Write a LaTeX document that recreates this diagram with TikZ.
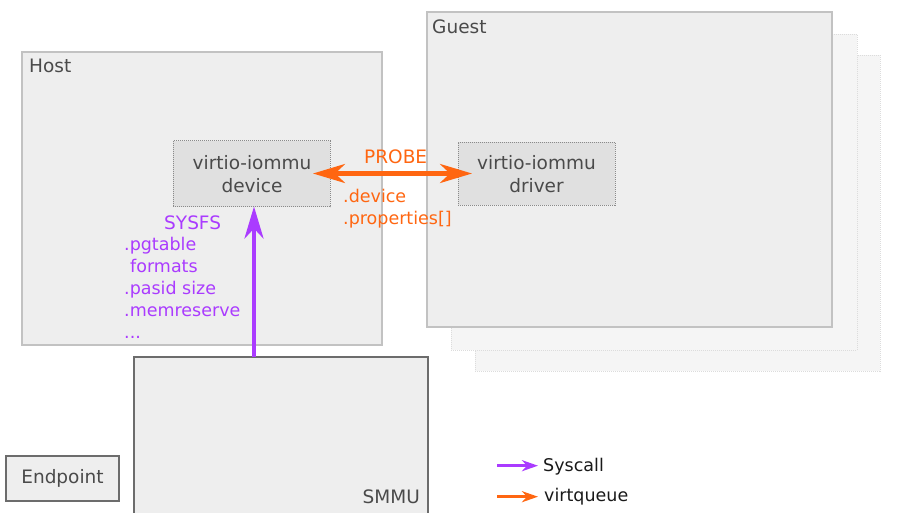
\documentclass[tikz,border=0pt]{standalone}
\usepackage{fontspec}
\setmainfont{DejaVu Sans}
\usetikzlibrary{arrows.meta}
\definecolor{orng}{HTML}{FF6611}
\definecolor{purp}{HTML}{AA3BFF}
\definecolor{txtgray}{HTML}{4A4A4A}
\definecolor{regionfill}{HTML}{EEEEEE}
\definecolor{regionline}{HTML}{C2C2C2}
\definecolor{shadowfill}{HTML}{F5F5F5}
\definecolor{shadowline}{HTML}{DCDCDC}
\definecolor{compfill}{HTML}{E0E0E0}
\definecolor{compline}{HTML}{8A8A8A}
\definecolor{hwline}{HTML}{6C6C6C}
\tikzset{
  sized/.style n args={2}{minimum width=#1pt, minimum height=#2pt},
  nwbox/.style={rectangle, anchor=north west, inner sep=0pt, outer sep=0pt},
  regionbox/.style={nwbox, fill=regionfill, draw=regionline, line width=1.5pt},
  shadowbox/.style={nwbox, fill=shadowfill, draw=shadowline, line width=1pt, densely dotted},
  compbox/.style={rectangle, inner sep=0pt, outer sep=0pt, fill=compfill, draw=compline, line width=1pt, densely dotted},
  hwbox/.style={rectangle, inner sep=0pt, outer sep=0pt, fill=regionfill, draw=hwline, line width=1.5pt},
  bigtxt/.style={inner sep=0pt, font=\fontsize{18.5}{23}\selectfont},
  smalltxt/.style={inner sep=0pt, font=\fontsize{17.5}{22}\selectfont},
  bigtip/.style={Stealth[length=32pt,width=19pt,inset=10pt]},
  probearrow/.style={draw=orng, line width=4.5pt, {Stealth[length=32pt,width=19pt,inset=10pt]}-{Stealth[length=32pt,width=19pt,inset=10pt]}},
  sysarrow/.style={draw=purp, line width=4.5pt, -{Stealth[length=32pt,width=19pt,inset=10pt]}},
  legendarrow/.style={draw=#1, line width=3.5pt, -{Stealth[length=16pt,width=11pt,inset=5pt]}}
}
\begin{document}
\begin{tikzpicture}[x=1pt,y=-1pt]
\useasboundingbox (0,0) rectangle (898,512);
\clip (0,0) rectangle (898,512);

% guest stack
\node[shadowbox, sized={405}{316}] (guestback) at (475,55) {};
\node[shadowbox, sized={406}{316}] (guestmid) at (451,34) {};
\node[regionbox, sized={405}{315}] (guest) at (427,12) {};
\node[regionbox, sized={360}{293}] (host) at (22,52) {};

\node[bigtxt, text=txtgray, anchor=base west] (hostlbl) at (29,72.5) {Host};
\node[bigtxt, text=txtgray, anchor=base west] (guestlbl) at (432,33) {Guest};

% components
\node[compbox, sized={157}{66}] (device) at (251.5,173.5) {};
\node[bigtxt, text=txtgray, align=center] (devicelbl) at (252,174.5) {virtio-iommu\\device};
\node[compbox, sized={157}{63}] (driver) at (536.5,173.5) {};
\node[bigtxt, text=txtgray, align=center] (driverlbl) at (536.5,174.5) {virtio-iommu\\driver};

% hardware
\node[hwbox, anchor=north west, sized={294}{175}] (smmu) at (134,357) {};
\node[bigtxt, text=txtgray, anchor=base east] (smmulbl) at (420,503) {SMMU};
\node[hwbox, bigtxt, text=txtgray, sized={113}{45}] (endpoint) at (62.5,478.5) {Endpoint};

% probe arrow
\draw[probearrow] ([xshift=-17pt]device.east) -- ([xshift=14pt]driver.west);
\node[bigtxt, text=orng, anchor=base west] (probelbl) at (364,163) {PROBE};
\node[smalltxt, text=orng, anchor=base west] (probe1) at (343,202) {.device};
\node[smalltxt, text=orng, anchor=base west] (probe2) at (343,224) {.properties[]};

% sysfs arrow
\draw[sysarrow] ([xshift=2.5pt]device.south |- smmu.north) -- ([xshift=2.5pt]device.south);
\node[bigtxt, text=purp, anchor=base west] (sysfslbl) at (164,229) {SYSFS};
\node[smalltxt, text=purp, anchor=base west] (sys1) at (124,250) {.pgtable};
\node[smalltxt, text=purp, anchor=base west] (sys2) at (130,272) {formats};
\node[smalltxt, text=purp, anchor=base west] (sys3) at (124,294) {.pasid size};
\node[smalltxt, text=purp, anchor=base west] (sys4) at (124,316) {.memreserve};
\node[smalltxt, text=purp, anchor=base west] (sys5) at (124,338) {...};

% legend
\coordinate (leg1a) at (497,465.7);
\coordinate (leg1b) at (538,465.7);
\coordinate (leg2a) at (497,496.7);
\coordinate (leg2b) at (538,496.7);
\draw[legendarrow=purp] (leg1a) -- (leg1b);
\draw[legendarrow=orng] (leg2a) -- (leg2b);
\node[smalltxt, text=black!90, anchor=base west] (syscall) at (543,471) {Syscall};
\node[smalltxt, text=black!90, anchor=base west] (virtq) at (544,501) {virtqueue};
\end{tikzpicture}
\end{document}
